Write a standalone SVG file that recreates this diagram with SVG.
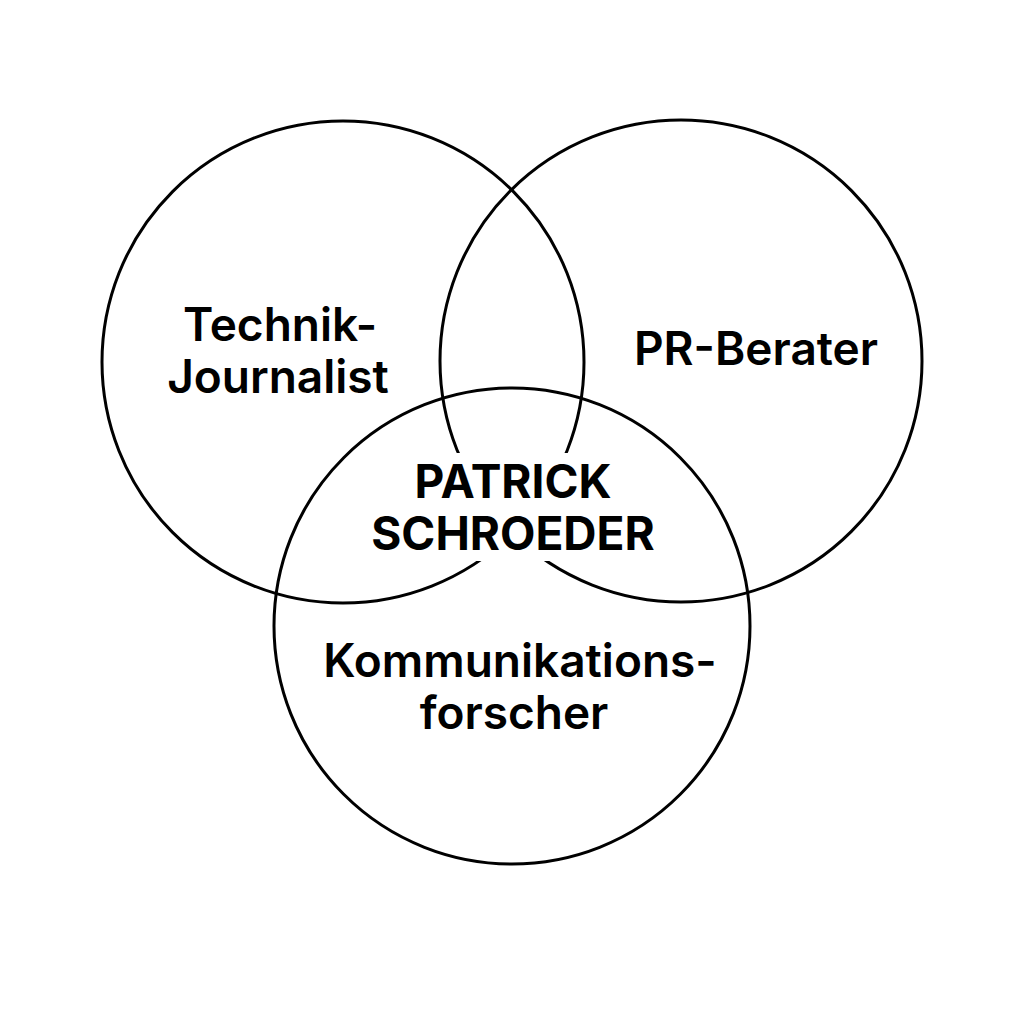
<svg xmlns="http://www.w3.org/2000/svg" width="1024" height="1024" viewBox="0 0 1024 1024">
<style>
.c{fill:none;stroke:#000;stroke-width:3}
.t{font-family:Inter,"Liberation Sans",sans-serif;font-size:46px;font-weight:600;fill:#000;text-anchor:middle}
.b{font-family:Inter,"Liberation Sans",sans-serif;font-size:46px;font-weight:700;fill:#000;text-anchor:middle}
</style>
<rect width="1024" height="1024" fill="#fff"/>
<g id="circle-left"><circle class="c" cx="343" cy="362" r="241"/></g>
<g id="circle-right"><circle class="c" cx="681" cy="361" r="241"/></g>
<g id="circle-bottom"><circle class="c" cx="512" cy="626" r="238"/></g>
<g id="label-technik"><text class="t" x="280" y="341">Technik-</text><text class="t" x="278" y="393">Journalist</text></g>
<g id="label-pr"><text class="t" x="756" y="365">PR-Berater</text></g>
<g id="label-komm"><text class="t" x="520" y="677">Kommunikations-</text><text class="t" x="514" y="729">forscher</text></g>
<g id="center"><rect x="370" y="453" width="285" height="108" fill="#fff"/><text class="b" x="513" y="498">PATRICK</text><text class="b" x="513" y="550">SCHROEDER</text></g>
</svg>
